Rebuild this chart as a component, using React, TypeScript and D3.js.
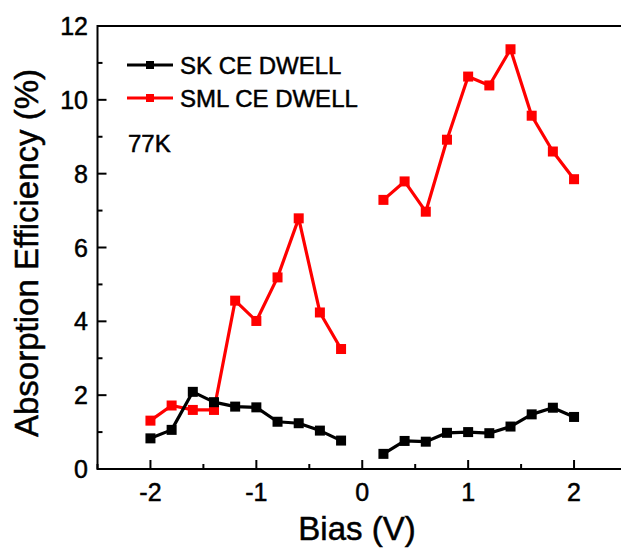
import React, { useEffect, useRef } from 'react';
import * as d3 from 'd3';

// bias points (V); 0 V was not measured
const bias = [-2, -1.8, -1.6, -1.4, -1.2, -1, -0.8, -0.6, -0.4, -0.2, 0,
  0.2, 0.4, 0.6, 0.8, 1, 1.2, 1.4, 1.6, 1.8, 2];
const skValues = [0.83, 1.06, 2.09, 1.81, 1.69, 1.67, 1.28, 1.24, 1.04, 0.77, null,
  0.41, 0.76, 0.74, 0.98, 1.0, 0.97, 1.15, 1.48, 1.66, 1.41];
const smlValues = [1.31, 1.72, 1.6, 1.6, 4.56, 4.01, 5.19, 6.79, 4.24, 3.25, null,
  7.29, 7.79, 6.97, 8.92, 10.63, 10.39, 11.37, 9.57, 8.6, 7.85];
const seriesNames = ['SK CE DWELL', 'SML CE DWELL'];
const seriesColors = ['#000000', '#ff0000'];
const xTicks = [-2, -1, 0, 1, 2];
const yTicks = [0, 2, 4, 6, 8, 10, 12];

const FONT = 'Arial, "Liberation Sans", sans-serif';

const App = () => {
  const svgRef = useRef<SVGSVGElement>(null);

  useEffect(() => {
    const svg = d3.select(svgRef.current);
    svg.selectAll('*').remove();

    const left = 97.5, right = 627, top = 26, bottom = 469;

    const x = d3.scaleLinear().domain([-2.5, 2.5]).range([left, right]);
    const y = d3.scaleLinear().domain([0, 12]).range([bottom, top]);

    const g = svg.append('g');

    // heavier looking text like the scanned figure
    const label = (sel: any, size: number) =>
      sel.style('font-family', FONT).style('font-size', `${size}px`)
        .attr('fill', '#000').attr('stroke', '#000').attr('stroke-width', 0.5);

    // frame (right edge falls outside the picture)
    g.append('rect')
      .attr('x', left).attr('y', top)
      .attr('width', right - left).attr('height', bottom - top)
      .attr('fill', 'none').attr('stroke', '#000').attr('stroke-width', 2);

    // y ticks, inward
    d3.range(0, 12.5, 1).forEach(v => {
      const major = v % 2 === 0;
      g.append('line')
        .attr('x1', left).attr('x2', left + (major ? 9 : 5))
        .attr('y1', y(v)).attr('y2', y(v))
        .attr('stroke', '#000').attr('stroke-width', 2);
    });
    yTicks.forEach(v => {
      label(g.append('text')
        .attr('x', 88).attr('y', y(v)).attr('dy', '0.36em')
        .attr('text-anchor', 'end'), 25)
        .text(v);
    });

    // x ticks, inward
    d3.range(-2.5, 2.51, 0.5).forEach(v => {
      const major = Math.abs(v - Math.round(v)) < 1e-6;
      g.append('line')
        .attr('x1', x(v)).attr('x2', x(v))
        .attr('y1', bottom).attr('y2', bottom - (major ? 9 : 5))
        .attr('stroke', '#000').attr('stroke-width', 2);
    });
    xTicks.forEach(v => {
      label(g.append('text')
        .attr('x', x(v)).attr('y', 501)
        .attr('text-anchor', 'middle'), 25)
        .text(v < 0 ? `-${Math.abs(v)}` : v);
    });

    // axis titles
    label(g.append('text')
      .attr('x', 357).attr('y', 540)
      .attr('text-anchor', 'middle'), 33)
      .text('Bias (V)');
    label(g.append('text')
      .attr('transform', 'translate(38,253) rotate(-90)')
      .attr('text-anchor', 'middle'), 33)
      .text('Absorption Efficiency (%)');

    const line = d3.line<number | null>()
      .defined(d => d !== null)
      .x((d, i) => x(bias[i]))
      .y(d => y(d as number));

    // red drawn first, black on top
    [smlValues, skValues].forEach((vals, k) => {
      const color = k === 0 ? seriesColors[1] : seriesColors[0];
      g.append('path')
        .datum(vals)
        .attr('d', line)
        .attr('fill', 'none')
        .attr('stroke', color)
        .attr('stroke-width', 3.2)
        .attr('stroke-linejoin', 'round');
      g.selectAll(null)
        .data(vals.map((v, i) => ({ b: bias[i], v })).filter(d => d.v !== null))
        .enter()
        .append('rect')
        .attr('x', d => x(d.b) - 5)
        .attr('y', d => y(d.v as number) - 5)
        .attr('width', 10).attr('height', 10)
        .attr('fill', color);
    });

    // legend
    seriesNames.forEach((name, i) => {
      const ly = 65 + i * 33;
      g.append('line')
        .attr('x1', 127).attr('x2', 173)
        .attr('y1', ly).attr('y2', ly)
        .attr('stroke', seriesColors[i]).attr('stroke-width', 3);
      g.append('rect')
        .attr('x', 146).attr('y', ly - 4)
        .attr('width', 8).attr('height', 8)
        .attr('fill', seriesColors[i]);
      label(g.append('text')
        .attr('x', 180).attr('y', ly + 9), 24)
        .text(name);
    });

    label(g.append('text')
      .attr('x', 128).attr('y', 152), 24)
      .text('77K');
  }, []);

  return (
    <svg
      ref={svgRef}
      width={621}
      height={548}
      style={{ position: 'absolute', left: 0, top: 0, background: '#fff' }}
    />
  );
};

export default App;
